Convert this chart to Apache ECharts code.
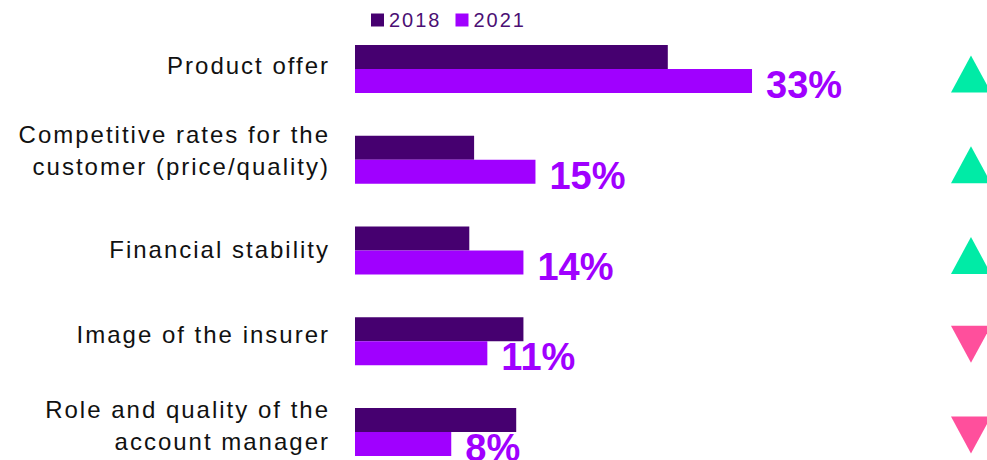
<!DOCTYPE html>
<html>
<head>
<meta charset="utf-8">
<script src="https://cdn.jsdelivr.net/npm/echarts@6/dist/echarts.min.js"></script>
<style>
  html, body { margin: 0; padding: 0; background: #ffffff; }
  #chart { width: 987px; height: 460px; }
  /* tracked-out body text, tight bold value labels */
  #chart svg text { letter-spacing: 2px; }
  #chart svg text[style*="bold"] { letter-spacing: 0; }
</style>
</head>
<body>
<div id="chart"></div>
<script>
// Reasons for choosing an insurer, share of respondents (%)
const categories = [
  'Product offer',
  'Competitive rates for the\ncustomer (price/quality)',
  'Financial stability',
  'Image of the insurer',
  'Role and quality of the\naccount manager'
];
const values2018 = [26, 9.9, 9.5, 14, 13.4];
const values2021 = [33, 15, 14, 11, 8];
const seriesNames = ['2018', '2021'];

// position of the trend arrows along the value axis
const trendMarkerX = 51.2;

const COLOR_2018 = '#460070';
const COLOR_2021 = '#a000ff';
const COLOR_UP = '#00eba6';
const COLOR_DOWN = '#ff4f9c';
const FONT = "'Liberation Sans', Arial, sans-serif";

// category labels sit a little above their bar pair; an invisible trailing
// line of this height (px) lifts each label by half of it
const labelLift = [6, 19, 2, 14, 13];

const trendData = categories.map((c, i) => {
  const up = values2021[i] >= values2018[i];
  return {
    value: [trendMarkerX, c],
    symbolRotate: up ? 0 : 180,
    symbolOffset: up ? [0, 5] : [0, 3],
    itemStyle: { color: up ? COLOR_UP : COLOR_DOWN, opacity: 1 }
  };
});

const labelRich = {};
labelLift.forEach((h, i) => {
  labelRich['t' + i] = { fontFamily: FONT, fontSize: 24, color: '#111111', lineHeight: 32 };
  labelRich['g' + i] = { fontSize: 1, lineHeight: h, color: 'rgba(0,0,0,0)' };
});

const chart = echarts.init(document.getElementById('chart'), null, { renderer: 'svg' });
chart.setOption({
  animation: false,
  backgroundColor: '#ffffff',
  legend: {
    data: seriesNames,
    left: 371,
    top: 10,
    padding: 0,
    icon: 'rect',
    itemWidth: 13,
    itemHeight: 13,
    itemGap: 22,
    textStyle: { fontFamily: FONT, fontSize: 20, color: '#4b0f74' }
  },
  grid: {
    left: 355,
    top: 23.5,
    width: 661.7,
    height: 454,
    containLabel: false,
    outerBoundsMode: 'none'
  },
  xAxis: {
    type: 'value',
    min: 0,
    max: 55,
    show: false
  },
  yAxis: {
    type: 'category',
    data: categories,
    inverse: true,
    axisLine: { show: false },
    axisTick: { show: false },
    splitLine: { show: false },
    axisLabel: {
      margin: 25,
      fontFamily: FONT,
      fontSize: 24,
      color: '#111111',
      lineHeight: 32,
      align: 'right',
      formatter: (v, i) =>
        v.split('\n').map(line => `{t${i}|${line}}`).join('\n') + `\n{g${i}| }`,
      rich: labelRich
    }
  },
  series: [
    {
      name: seriesNames[0],
      type: 'bar',
      data: values2018,
      barWidth: 24,
      barGap: '0%',
      itemStyle: { color: COLOR_2018 }
    },
    {
      name: seriesNames[1],
      type: 'bar',
      data: values2021,
      barWidth: 24,
      barGap: '0%',
      itemStyle: { color: COLOR_2021 },
      label: {
        show: true,
        position: 'right',
        distance: 14,
        offset: [0, 4],
        formatter: p => p.value + '%',
        fontFamily: FONT,
        fontWeight: 'bold',
        fontSize: 38,
        color: COLOR_2021
      }
    },
    {
      name: 'trend',
      type: 'scatter',
      data: trendData,
      symbol: 'triangle',
      symbolSize: [40, 37],
      itemStyle: { opacity: 1 },
      silent: true,
      clip: false
    }
  ]
});
</script>
</body>
</html>
